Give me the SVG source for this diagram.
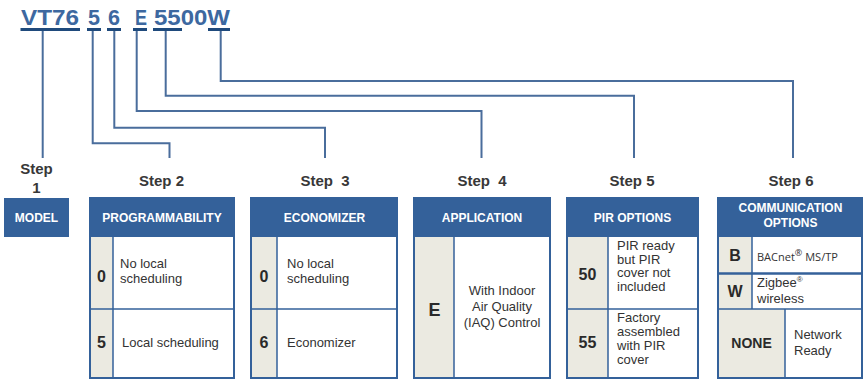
<svg xmlns="http://www.w3.org/2000/svg" width="866" height="380" viewBox="0 0 866 380">
<style>
.code{font-family:"Liberation Sans",Arial,sans-serif;font-weight:bold;font-size:22px;fill:#3d68a0}
.ul{fill:#1f4a7c}
.conn{fill:none;stroke:#4a6d9c;stroke-width:2}
.step{font-family:"Liberation Sans",Arial,sans-serif;font-weight:bold;font-size:15px;fill:#383838;text-anchor:middle}
.hdr{fill:#34619a}
.hdrt{font-family:"Liberation Sans",Arial,sans-serif;font-weight:bold;font-size:12px;fill:#fff;text-anchor:middle}
.bodyr{fill:#fff}
.codecol{fill:#ebeae1}
.grid{stroke:#34619a;stroke-width:1.5;fill:none}
.outer{stroke:#34619a;stroke-width:2;fill:none}
.k{font-family:"Liberation Sans",Arial,sans-serif;font-weight:bold;font-size:16px;fill:#2a2a2a;text-anchor:middle}
.t{font-family:"Liberation Sans",Arial,sans-serif;font-size:13px;fill:#333}
.tc{text-anchor:middle}
.s{font-family:"Open Sans","Liberation Sans",sans-serif;font-size:11px;fill:#333}
</style>

<g id="model-code">
  <text class="code" x="21" y="25" textLength="58" lengthAdjust="spacingAndGlyphs">VT76</text>
  <text class="code" x="88" y="25" textLength="12" lengthAdjust="spacingAndGlyphs">5</text>
  <text class="code" x="108" y="25" textLength="12" lengthAdjust="spacingAndGlyphs">6</text>
  <text class="code" x="135" y="25" textLength="12" lengthAdjust="spacingAndGlyphs">E</text>
  <text class="code" x="154" y="25" textLength="76" lengthAdjust="spacingAndGlyphs">5500W</text>
  <rect class="ul" x="20.5" y="28" width="59.5" height="3"/>
  <rect class="ul" x="87" y="28" width="14" height="3"/>
  <rect class="ul" x="107" y="28" width="14" height="3"/>
  <rect class="ul" x="133" y="28" width="14" height="3"/>
  <rect class="ul" x="153" y="28" width="29" height="3"/>
  <rect class="ul" x="208" y="28" width="22" height="3"/>
</g>

<g id="connectors">
  <path class="conn" d="M42.7 31V158"/>
  <path class="conn" d="M92.7 31V143.3H169.5V158"/>
  <path class="conn" d="M114.3 31V127.7H325V158"/>
  <path class="conn" d="M136.7 31V111H481.5V158"/>
  <path class="conn" d="M165.7 31V95.7H634V158"/>
  <path class="conn" d="M220.7 31V81H793V158"/>
</g>

<g id="step1">
  <text class="step" x="36.5" y="174">Step</text>
  <text class="step" x="36.5" y="193">1</text>
  <rect class="hdr" x="4" y="198" width="65" height="39"/>
  <text class="hdrt" x="36.5" y="222">MODEL</text>
</g>

<g id="step2">
  <text class="step" x="161.5" y="186">Step 2</text>
  <rect class="hdr" x="90" y="198" width="144" height="39"/>
  <rect class="bodyr" x="90" y="237" width="144" height="141"/>
  <rect class="codecol" x="90" y="237" width="23" height="141"/>
  <path class="grid" d="M113 237V378M90 309H234"/>
  <rect class="outer" x="90" y="198" width="144" height="180"/>
  <text class="hdrt" x="162" y="222">PROGRAMMABILITY</text>
  <text class="k" x="101.5" y="282">0</text>
  <text class="t" x="120" y="268">No local</text>
  <text class="t" x="120" y="283">scheduling</text>
  <text class="k" x="101.5" y="348">5</text>
  <text class="t" x="122" y="347">Local scheduling</text>
</g>

<g id="step3">
  <text class="step" x="325" y="186" xml:space="preserve">Step  3</text>
  <rect class="hdr" x="251" y="198" width="146" height="39"/>
  <rect class="bodyr" x="251" y="237" width="146" height="141"/>
  <rect class="codecol" x="251" y="237" width="26" height="141"/>
  <path class="grid" d="M277 237V378M251 309H397"/>
  <rect class="outer" x="251" y="198" width="146" height="180"/>
  <text class="hdrt" x="324.5" y="222">ECONOMIZER</text>
  <text class="k" x="264" y="282">0</text>
  <text class="t" x="287" y="268">No local</text>
  <text class="t" x="287" y="283">scheduling</text>
  <text class="k" x="264" y="348">6</text>
  <text class="t" x="287" y="347">Economizer</text>
</g>

<g id="step4">
  <text class="step" x="482" y="186" xml:space="preserve">Step  4</text>
  <rect class="hdr" x="414" y="198" width="136" height="39"/>
  <rect class="bodyr" x="414" y="237" width="136" height="141"/>
  <rect class="codecol" x="414" y="237" width="40" height="141"/>
  <path class="grid" d="M454 237V378"/>
  <rect class="outer" x="414" y="198" width="136" height="180"/>
  <text class="hdrt" x="482" y="222">APPLICATION</text>
  <text class="k" x="434.5" y="316" style="font-size:18px">E</text>
  <text class="t tc" x="502" y="295">With Indoor</text>
  <text class="t tc" x="502" y="311">Air Quality</text>
  <text class="t tc" x="502" y="327">(IAQ) Control</text>
</g>

<g id="step5">
  <text class="step" x="632" y="186">Step 5</text>
  <rect class="hdr" x="567" y="198" width="131" height="39"/>
  <rect class="bodyr" x="567" y="237" width="131" height="141"/>
  <rect class="codecol" x="567" y="237" width="41" height="141"/>
  <path class="grid" d="M608 237V378M567 309H698"/>
  <rect class="outer" x="567" y="198" width="131" height="180"/>
  <text class="hdrt" x="632.5" y="222">PIR OPTIONS</text>
  <text class="k" x="587.5" y="280">50</text>
  <text class="t" x="617" y="250">PIR ready</text>
  <text class="t" x="617" y="263.5">but PIR</text>
  <text class="t" x="617" y="277">cover not</text>
  <text class="t" x="617" y="290.5">included</text>
  <text class="k" x="587.5" y="348">55</text>
  <text class="t" x="617" y="322">Factory</text>
  <text class="t" x="617" y="336">assembled</text>
  <text class="t" x="617" y="350">with PIR</text>
  <text class="t" x="617" y="364">cover</text>
</g>

<g id="step6">
  <text class="step" x="791" y="186">Step 6</text>
  <rect class="hdr" x="718" y="198" width="144" height="39"/>
  <rect class="bodyr" x="718" y="237" width="144" height="141"/>
  <rect class="codecol" x="718" y="237" width="34" height="72"/>
  <rect class="codecol" x="718" y="309" width="67" height="69"/>
  <path class="grid" d="M752 237V309M785 309V378M718 309H862"/>
  <path class="grid" d="M718 273.5H862" style="stroke-width:2.5"/>
  <rect class="outer" x="718" y="198" width="144" height="180"/>
  <text class="hdrt" x="790.5" y="212">COMMUNICATION</text>
  <text class="hdrt" x="790.5" y="227">OPTIONS</text>
  <text class="k" x="735" y="261">B</text>
  <text class="s" x="757" y="261">BACnet<tspan dy="-5" font-size="9">®</tspan><tspan dy="5"> MS/TP</tspan></text>
  <text class="k" x="735" y="297">W</text>
  <text class="t" x="757" y="287">Zigbee<tspan dy="-5" font-size="8">®</tspan></text>
  <text class="t" x="757" y="303">wireless</text>
  <text class="k" x="751.5" y="348" style="font-size:14px">NONE</text>
  <text class="t" x="794" y="339">Network</text>
  <text class="t" x="794" y="355">Ready</text>
</g>
</svg>
